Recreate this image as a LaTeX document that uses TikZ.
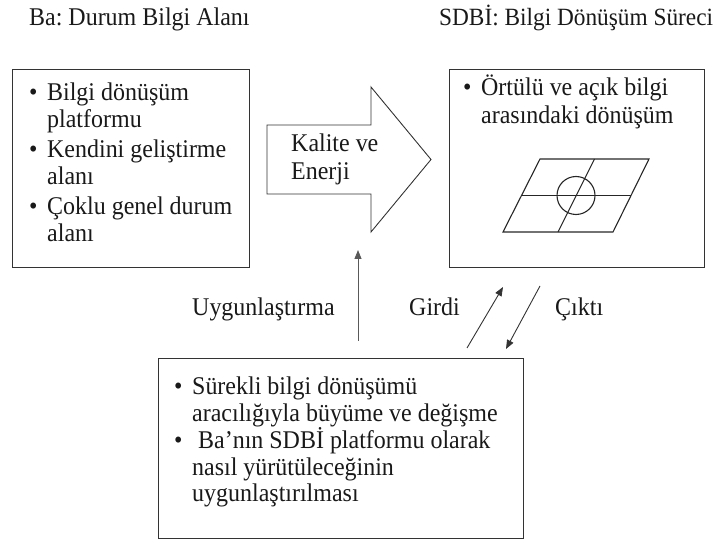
\documentclass[tikz,border=0pt]{standalone}
\usepackage{fontspec}
\setmainfont{Liberation Serif}[FakeStretch=0.94]
\usetikzlibrary{arrows.meta}
\frenchspacing
% bullet with a fixed-width slot, and the matching hanging indent
\newcommand\bul{\makebox[18pt][l]{\textbullet}}
\newcommand\ind{\hspace*{18pt}}
\begin{document}
\begin{tikzpicture}[x=1pt,y=-1pt,
  panel/.style={draw=black!80, line width=1.3pt, anchor=north west, inner sep=0pt},
  body/.style={inner sep=0pt, anchor=base west, text=black!90},
  label/.style={inner sep=0pt, anchor=base west, text=black!90, font=\fontsize{25.5}{27}\selectfont},
  link/.style={draw=black!80, line width=0.9pt, -{Triangle[length=9pt,width=7pt]}},
  sketch/.style={draw=black!85, line width=1.1pt},
]
\useasboundingbox (0,0) rectangle (721,540);

% headings
\node[label] (tleft) at (29,26) {Ba: Durum Bilgi Alanı};
\node[label, font=\fontsize{24.8}{27}\selectfont] (tright) at (439,26) {SDBİ: Bilgi Dönüşüm Süreci};

% the three panels
\node[panel, minimum width=237pt, minimum height=198pt] (ba) at (12,69) {};
\node[panel, minimum width=255pt, minimum height=198pt] (sdbi) at (449,69) {};
\node[panel, minimum width=365pt, minimum height=180pt] (grow) at (158,358) {};

% panel texts
\node[body] (batext) at (29,101) {\parbox[t]{215pt}{\fontsize{25.5}{27}\selectfont\raggedright
  \bul Bilgi dönüşüm\\
  \ind platformu\\[3pt]
  \bul Kendini geliştirme\\
  \ind alanı\\[3pt]
  \bul Çoklu genel durum\\
  \ind alanı}};
\node[body] (sdbitext) at (463,96) {\parbox[t]{235pt}{\fontsize{25.5}{28}\selectfont\raggedright
  \bul Örtülü ve açık bilgi\\
  \ind arasındaki dönüşüm}};
\node[body] (growtext) at (174,395) {\parbox[t]{345pt}{\fontsize{25.5}{26.3}\selectfont\raggedright
  \bul Sürekli bilgi dönüşümü\\
  \ind aracılığıyla büyüme ve değişme\\
  \bul\ Ba’nın SDBİ platformu olarak\\
  \ind nasıl yürütüleceğinin\\
  \ind uygunlaştırılması}};

% block arrow between the upper panels
\draw[draw=black!80, line width=0.9pt]
  (267,125) -- (371,125) -- (371,87) -- (431,159.5) -- (371,232) -- (371,194) -- (267,194) -- cycle;
\node[body] (quality) at (291,152) {\parbox[t]{100pt}{\fontsize{25.5}{27.5}\selectfont\raggedright
  Kalite ve\\ Enerji}};

% parallelogram with cross and circle
\draw[sketch] (540,159) -- (649,159) -- (613,232) -- (503,232) -- cycle;
\draw[sketch] (521.5,195.5) -- (631,195.5);
\draw[sketch] (594.5,159) -- (558,232);
\draw[sketch] (576,195.5) circle (19pt);

% connectors
\coordinate (upfoot) at (358,341);
\coordinate (uptip) at (358,250);
\coordinate (infoot) at (467,348);
\coordinate (intip) at (503,287);
\coordinate (outfoot) at (540,286);
\coordinate (outtip) at (506,349);
\draw[link, draw=black!65] (upfoot) -- (uptip);
\draw[link] (infoot) -- (intip);
\draw[link] (outfoot) -- (outtip);

% connector labels
\node[label] (adapt) at (192,316) {Uygunlaştırma};
\node[label] (input) at (409,316) {Girdi};
\node[label] (output) at (555,316) {Çıktı};
\end{tikzpicture}
\end{document}
